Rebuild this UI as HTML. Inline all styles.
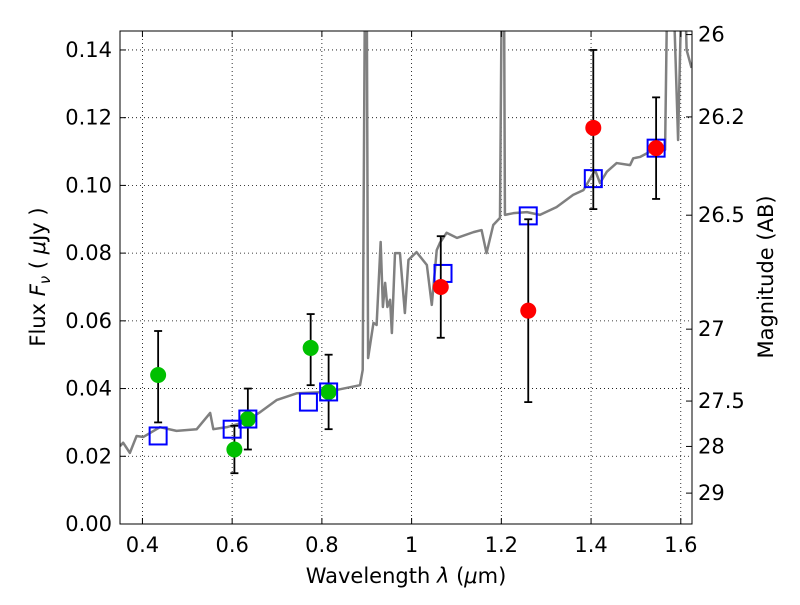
<!DOCTYPE html>
<html><head><meta charset="utf-8"><style>
body{margin:0;background:#fff;}
svg text{font-family:"DejaVu Sans","Liberation Sans",sans-serif;fill:#000;}
</style></head><body>
<svg id="chart" width="800" height="600" xmlns="http://www.w3.org/2000/svg">
<defs><clipPath id="clip"><rect x="120" y="31" width="572" height="493"/></clipPath></defs>
<g id="grid"></g>
<g id="marks" clip-path="url(#clip)"></g>
<g id="axes"></g>
<rect x="120" y="31" width="572" height="493" fill="none" stroke="#000" stroke-width="1"/>
<text x="406" y="583" font-size="21" text-anchor="middle">Wavelength  <tspan font-style="italic">λ</tspan> (<tspan font-style="italic">μ</tspan>m)</text>
<text transform="translate(45,277) rotate(-90)" font-size="21" text-anchor="middle">Flux  <tspan font-style="italic">F</tspan><tspan font-style="italic" font-size="15" dy="5">ν</tspan><tspan dy="-5">  ( </tspan><tspan font-style="italic">μ</tspan>Jy )</text>
<text transform="translate(773,277) rotate(-90)" font-size="21" text-anchor="middle">Magnitude (AB)</text>
</svg>
<script>
const xTicks=[0.4,0.6,0.8,1.0,1.2,1.4,1.6];
const xTickLabels=['0.4','0.6','0.8','1','1.2','1.4','1.6'];
const yTicks=[0,0.02,0.04,0.06,0.08,0.10,0.12,0.14];
const yTickLabels=['0.00','0.02','0.04','0.06','0.08','0.10','0.12','0.14'];
const magTicks=[26,26.2,26.5,27,27.5,28,29];
const magLabels=['26','26.2','26.5','27','27.5','28','29'];
const specWave=[0.35,0.357,0.372,0.387,0.402,0.439,0.476,0.521,0.551,0.558,0.588,0.625,0.662,0.699,0.744,0.811,0.848,0.885,0.891,0.896,0.900,0.903,0.915,0.922,0.931,0.936,0.941,0.946,0.952,0.956,0.963,0.974,0.985,0.993,1.011,1.034,1.045,1.056,1.063,1.078,1.101,1.138,1.156,1.167,1.182,1.197,1.201,1.206,1.208,1.227,1.257,1.286,1.323,1.360,1.383,1.409,1.420,1.435,1.457,1.487,1.494,1.509,1.539,1.565,1.570,1.583,1.594,1.602,1.609,1.613,1.624];
const specFlux=[0.023,0.024,0.021,0.026,0.0257,0.0286,0.0275,0.028,0.0328,0.028,0.0286,0.030,0.033,0.0366,0.0386,0.039,0.040,0.041,0.0455,0.16,0.16,0.049,0.0594,0.0588,0.0833,0.0641,0.0712,0.0641,0.0662,0.0564,0.080,0.080,0.0623,0.078,0.0803,0.0765,0.0647,0.0809,0.083,0.086,0.0845,0.0862,0.0868,0.080,0.0883,0.0904,0.16,0.16,0.0913,0.0918,0.0921,0.0913,0.0936,0.0972,0.0986,0.1045,0.1007,0.104,0.1066,0.106,0.108,0.1084,0.1105,0.1105,0.16,0.16,0.1134,0.16,0.16,0.140,0.1347];
const greenWave=[0.435,0.605,0.635,0.775,0.815];
const greenFlux=[0.044,0.022,0.031,0.052,0.039];
const greenLo=[0.030,0.015,0.022,0.041,0.028];
const greenHi=[0.057,0.029,0.040,0.062,0.050];
const redWave=[1.065,1.26,1.405,1.545];
const redFlux=[0.070,0.063,0.117,0.111];
const redLo=[0.055,0.036,0.093,0.096];
const redHi=[0.085,0.090,0.140,0.126];
const modelWave=[0.435,0.60,0.635,0.77,0.815,1.07,1.26,1.405,1.545];
const modelFlux=[0.026,0.028,0.031,0.036,0.039,0.074,0.091,0.102,0.111];

const X0=120,X1=692,Y0=524,Y1=31,xmin=0.35,xmax=1.625,ymin=0,ymax=0.1456;
const sx=v=>X0+(v-xmin)/(xmax-xmin)*(X1-X0);
const sy=v=>Y0-(v-ymin)/(ymax-ymin)*(Y0-Y1);
const NS='http://www.w3.org/2000/svg';
function mk(parent,tag,attrs){const e=document.createElementNS(NS,tag);for(const k in attrs)e.setAttribute(k,attrs[k]);document.getElementById(parent).appendChild(e);return e;}
xTicks.forEach((t,i)=>{
 const g=mk('grid','line',{x1:sx(t),x2:sx(t),y1:Y0,y2:Y1,stroke:'#000','stroke-dasharray':'1,3','stroke-width':0.8});
 
 
 const tk=mk('axes','line',{x1:sx(t),x2:sx(t),y1:Y0,y2:Y0-6,stroke:'#000'});
 
 
 const tt=mk('axes','line',{x1:sx(t),x2:sx(t),y1:Y1,y2:Y1+6,stroke:'#000'});
 
 
 const tx=mk('axes','text',{x:sx(t),y:552,'font-size':21,'text-anchor':'middle'});
 tx.textContent=xTickLabels[i];
 
 
});
yTicks.forEach((t,i)=>{
 const g=mk('grid','line',{x1:X0,x2:X1,y1:sy(t),y2:sy(t),stroke:'#000','stroke-dasharray':'1,3','stroke-width':0.8});
 
 
 const tk=mk('axes','line',{x1:X0,x2:X0+6,y1:sy(t),y2:sy(t),stroke:'#000'});
 
 
 const tx=mk('axes','text',{x:112,y:sy(t)+7,'font-size':21,'text-anchor':'end'});
 tx.textContent=yTickLabels[i];
 
 
});
magTicks.forEach((m,i)=>{
 const f=Math.pow(10,(23.9-m)/2.5);
 const tk=mk('axes','line',{x1:X1,x2:X1-6,y1:sy(f),y2:sy(f),stroke:'#000'});
 
 
 const tx=mk('axes','text',{x:698,y:sy(f)+7,'font-size':21});
 tx.textContent=magLabels[i];
 
 
});
const sp=mk('marks','polyline',{points:specWave.map((w,i)=>sx(w)+','+sy(specFlux[i])).join(' '),fill:'none',stroke:'#808080','stroke-width':2.5,'stroke-linejoin':'round'});


function pts(W,F,L,H,col,name){
 W.forEach((w,i)=>{
  const e=mk('marks','line',{x1:sx(w),x2:sx(w),y1:sy(L[i]),y2:sy(H[i]),stroke:'#000','stroke-width':1.8});
  
  
  [L[i],H[i]].forEach(v=>{const c=mk('marks','line',{x1:sx(w)-4,x2:sx(w)+4,y1:sy(v),y2:sy(v),stroke:'#000','stroke-width':1.8});
   
   });
  const d=mk('marks','circle',{cx:sx(w),cy:sy(F[i]),r:8,fill:col});
  
  
 });
}
pts(greenWave,greenFlux,greenLo,greenHi,'#00c000','hst');
modelWave.forEach((w,i)=>{
 const r=mk('marks','rect',{x:sx(w)-8.5,y:sy(modelFlux[i])-8.5,width:17,height:17,fill:'none',stroke:'#0000ff','stroke-width':2});
 
 
});
pts(redWave,redFlux,redLo,redHi,'#ff0000','ir');
</script>
</body></html>
